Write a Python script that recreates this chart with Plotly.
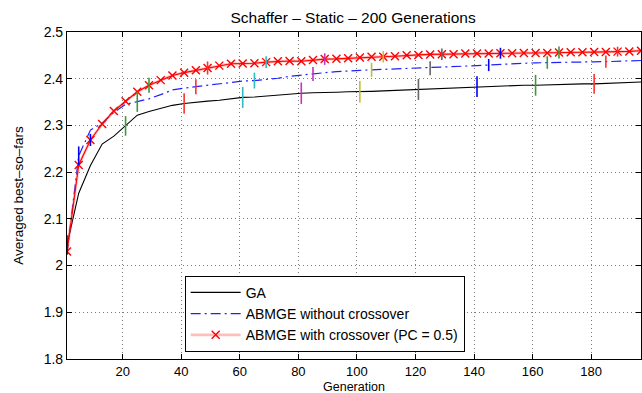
import plotly.graph_objects as go

generations = list(range(1, 198, 4))

ga = [2.044, 2.155, 2.214, 2.260, 2.277, 2.299, 2.322, 2.330, 2.337, 2.343,
      2.347, 2.350, 2.352, 2.354, 2.357, 2.360, 2.361, 2.363, 2.365, 2.368,
      2.369, 2.370, 2.370, 2.371, 2.372, 2.372, 2.373, 2.374, 2.375, 2.376,
      2.377, 2.378, 2.380, 2.381, 2.382, 2.383, 2.384, 2.385, 2.385, 2.386,
      2.386, 2.387, 2.388, 2.388, 2.389, 2.389, 2.390, 2.390, 2.391, 2.393]

abmge_nox = [2.025, 2.235, 2.290, 2.305, 2.328, 2.345, 2.351, 2.357, 2.366, 2.376,
             2.380, 2.383, 2.386, 2.390, 2.393, 2.395, 2.396, 2.398, 2.401, 2.405,
             2.408, 2.410, 2.413, 2.415, 2.417, 2.418, 2.419, 2.420, 2.421, 2.4215,
             2.422, 2.4226, 2.424, 2.4255, 2.427, 2.428, 2.4293, 2.431, 2.432, 2.433,
             2.434, 2.4347, 2.4355, 2.436, 2.436, 2.4362, 2.4365, 2.437, 2.438, 2.439]

abmge_x = [2.030, 2.2155, 2.269, 2.303, 2.331, 2.352, 2.372, 2.386, 2.397, 2.407,
           2.413, 2.418, 2.423, 2.428, 2.432, 2.4325, 2.433, 2.4355, 2.4375, 2.438,
           2.4375, 2.440, 2.442, 2.4425, 2.444, 2.4455, 2.447, 2.447, 2.448, 2.450,
           2.451, 2.452, 2.4525, 2.4525, 2.454, 2.454, 2.454, 2.4545, 2.4545, 2.455,
           2.455, 2.455, 2.456, 2.4565, 2.4565, 2.457, 2.457, 2.458, 2.4585, 2.460]

ga_err_gens = [1, 21, 41, 61, 81, 101, 121, 141, 161, 181]
ga_err = [0.021, 0.021, 0.022, 0.0225, 0.023, 0.023, 0.0224, 0.0223, 0.0223, 0.021]
nox_err_gens = [5, 25, 45, 65, 85, 105, 125, 145, 165, 185]
nox_err = [0.020, 0.022, 0.016, 0.017, 0.015, 0.015, 0.015, 0.013, 0.0135, 0.013]
x_err_gens = [9, 29, 49, 69, 89, 109, 129, 149, 169, 189]
x_err = [0.013, 0.016, 0.014, 0.0124, 0.0124, 0.0124, 0.0124, 0.0117, 0.0128, 0.0106]

err_colors = ["#0000ff", "#3a9a3a", "#ff3030", "#30bcbc", "#c830c8", "#c0c030", "#666666"]

title = "Schaffer – Static – 200 Generations"
xlabel = "Generation"
ylabel = "Averaged best–so–fars"
xticks = [20, 40, 60, 80, 100, 120, 140, 160, 180]
yticks = [1.8, 1.9, 2.0, 2.1, 2.2, 2.3, 2.4, 2.5]
ytick_text = ["1.8", "1.9", "2", "2.1", "2.2", "2.3", "2.4", "2.5"]

FONT = "Liberation Sans, Arial, Helvetica, sans-serif"

fig = go.Figure()

fig.add_trace(go.Scatter(x=generations, y=ga, mode="lines", name="GA",
                         line=dict(color="black", width=1.1)))
fig.add_trace(go.Scatter(x=generations, y=abmge_nox, mode="lines",
                         name="ABMGE without crossover",
                         line=dict(color="#2020ff", width=1.2, dash="10px,4px,2px,4px")))
fig.add_trace(go.Scatter(x=generations, y=abmge_x, mode="lines+markers",
                         name="ABMGE with crossover (PC = 0.5)",
                         line=dict(color="rgba(255,70,70,0.35)", width=2.8),
                         marker=dict(symbol="x-thin", size=8, color="red",
                                     line=dict(color="red", width=1.4))))
fig.add_trace(go.Scatter(x=generations, y=abmge_x, mode="lines", showlegend=False,
                         line=dict(color="red", width=1.1), hoverinfo="skip"))

def add_err(series, gens, errs):
    lookup = dict(zip(generations, series))
    for ci, col in enumerate(err_colors):
        xs, ys, es = [], [], []
        for i, g in enumerate(gens):
            if i % len(err_colors) == ci:
                xs.append(g)
                ys.append(lookup[g])
                es.append(errs[i])
        if xs:
            fig.add_trace(go.Scatter(x=xs, y=ys, mode="markers", showlegend=False,
                                     marker=dict(size=0.1, color=col, opacity=0),
                                     error_y=dict(type="data", array=es, visible=True,
                                                  color=col, thickness=1.6, width=0),
                                     hoverinfo="skip"))

add_err(ga, ga_err_gens, ga_err)
add_err(abmge_nox, nox_err_gens, nox_err)
add_err(abmge_x, x_err_gens, x_err)

axis_common = dict(showline=True, linecolor="black", linewidth=1.2, mirror="ticks",
                   ticks="inside", ticklen=5, tickcolor="black",
                   showgrid=True, gridcolor="#7a7a7a", griddash="1px,3px", gridwidth=1,
                   zeroline=False)

fig.update_layout(
    width=642, height=393,
    margin=dict(l=67, r=1, t=32, b=34),
    paper_bgcolor="white", plot_bgcolor="white",
    title=dict(text=title, x=0.55, xanchor="center", y=0.955, yanchor="middle",
               font=dict(family=FONT, size=15.5, color="black")),
    xaxis=dict(range=[1, 197], tickvals=xticks,
               tickfont=dict(family=FONT, size=13, color="black"), **axis_common),
    yaxis=dict(range=[1.8, 2.5], tickvals=yticks, ticktext=ytick_text,
               tickfont=dict(family=FONT, size=14, color="black"),
               title=dict(text=ylabel, standoff=16,
                          font=dict(family=FONT, size=13.5, color="black")), **axis_common),
    legend=dict(x=0.205, y=0.022, xanchor="left", yanchor="bottom",
                bgcolor="white", bordercolor="black", borderwidth=1,
                font=dict(family=FONT, size=14, color="black"),
                tracegroupgap=0, itemwidth=50),
    showlegend=True,
    annotations=[dict(text=xlabel, xref="paper", yref="paper", x=0.5, y=0,
                      xanchor="center", yanchor="top", yshift=-20, showarrow=False,
                      borderpad=0,
                      font=dict(family=FONT, size=12.5, color="black"))],
)

fig.write_html("out.html")
